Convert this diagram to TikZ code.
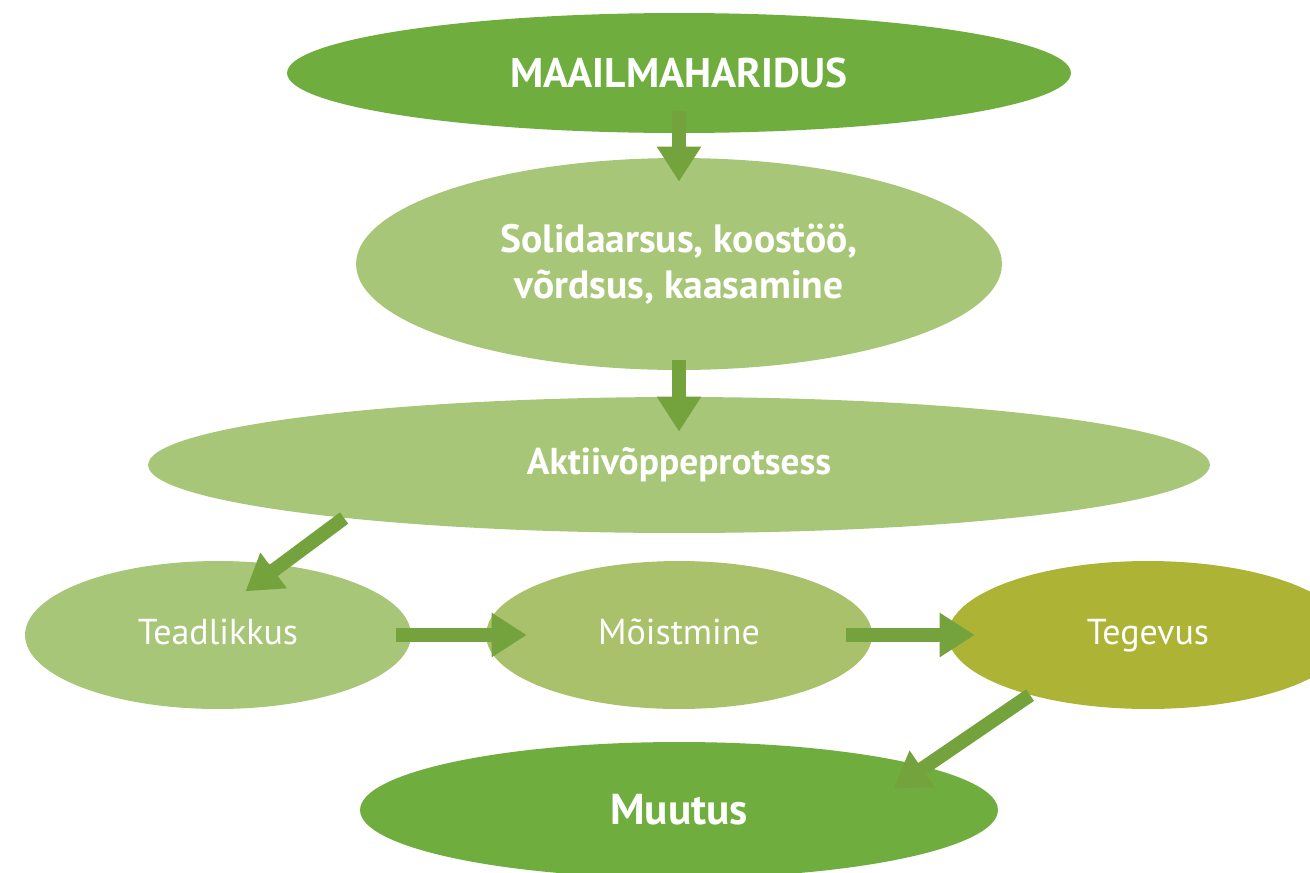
\documentclass[tikz,border=0pt]{standalone}
\usepackage{fontspec}
\setmainfont{PT Sans}
\usetikzlibrary{shapes.geometric,arrows.meta}
\definecolor{deepleaf}{HTML}{6FAE3E}
\definecolor{paleleaf}{HTML}{A7C677}
\definecolor{midleaf}{HTML}{A9C16B}
\definecolor{oliveleaf}{HTML}{ADB334}
\definecolor{arrowleaf}{HTML}{74A23C}
\begin{document}
\begin{tikzpicture}[x=0.02cm,y=-0.02cm,every node/.style={ellipse,inner sep=0pt,text=white,align=center},
	row/.style={minimum width=7.72cm,minimum height=2.96cm,text height=2.1ex,text depth=0pt,font=\fontsize{20.5}{24}\selectfont},
	arr/.style={line width=0.28cm,draw=arrowleaf,-{Triangle[width=0.84cm,length=0.7cm]}}]
		\useasboundingbox (0,0) rectangle (1310,872);
		\clip (0,0) rectangle (1310,872);

		%upper nodes
		\node[fill=deepleaf,minimum width=15.68cm,minimum height=2.4cm,font=\fontsize{23.6}{27}\selectfont\bfseries] (world) at (679,73) {MAAILMAHARIDUS};
		\node[fill=paleleaf,minimum width=12.92cm,minimum height=4.24cm,font=\fontsize{22.5}{26.5}\selectfont\bfseries] (values) at (679,264) {Solidaarsus, koostöö,\\võrdsus, kaasamine};
		\node[fill=paleleaf,minimum width=21.24cm,minimum height=2.72cm,font=\fontsize{21.3}{25}\selectfont\bfseries] (active) at (679,465) {Aktiivõppeprotsess};

		%middle row
		\node[row,fill=paleleaf] (aware) at (218,635) {Teadlikkus};
		\node[row,fill=midleaf] (grasp) at (679,635) {Mõistmine};
		\node[row,fill=oliveleaf,minimum width=8cm] (act) at (1148,635) {Tegevus};

		%bottom node
		\node[fill=deepleaf,minimum width=12.76cm,minimum height=2.72cm,font=\fontsize{24.6}{28}\selectfont\bfseries] (change) at (679,810) {Muutus};

		%arrows
		\draw[arr,shorten <=-0.44cm,shorten >=-0.48cm] (world.south) -- (values.north);
		\draw[arr,shorten <=-0.2cm,shorten >=-0.7cm] (values.south) -- (active.north);
		\draw[arr,shorten >=-0.89cm] (active.189) -- (aware.48.5);
		\draw[arr,shorten <=-0.3cm,shorten >=-0.82cm] (aware.east) -- (grasp.west);
		\draw[arr,shorten <=-0.52cm,shorten >=-0.54cm] (grasp.east) -- (act.west);
		\draw[arr,shorten >=-0.78cm] (act.207.7) -- (change.10);
\end{tikzpicture}
\end{document}
